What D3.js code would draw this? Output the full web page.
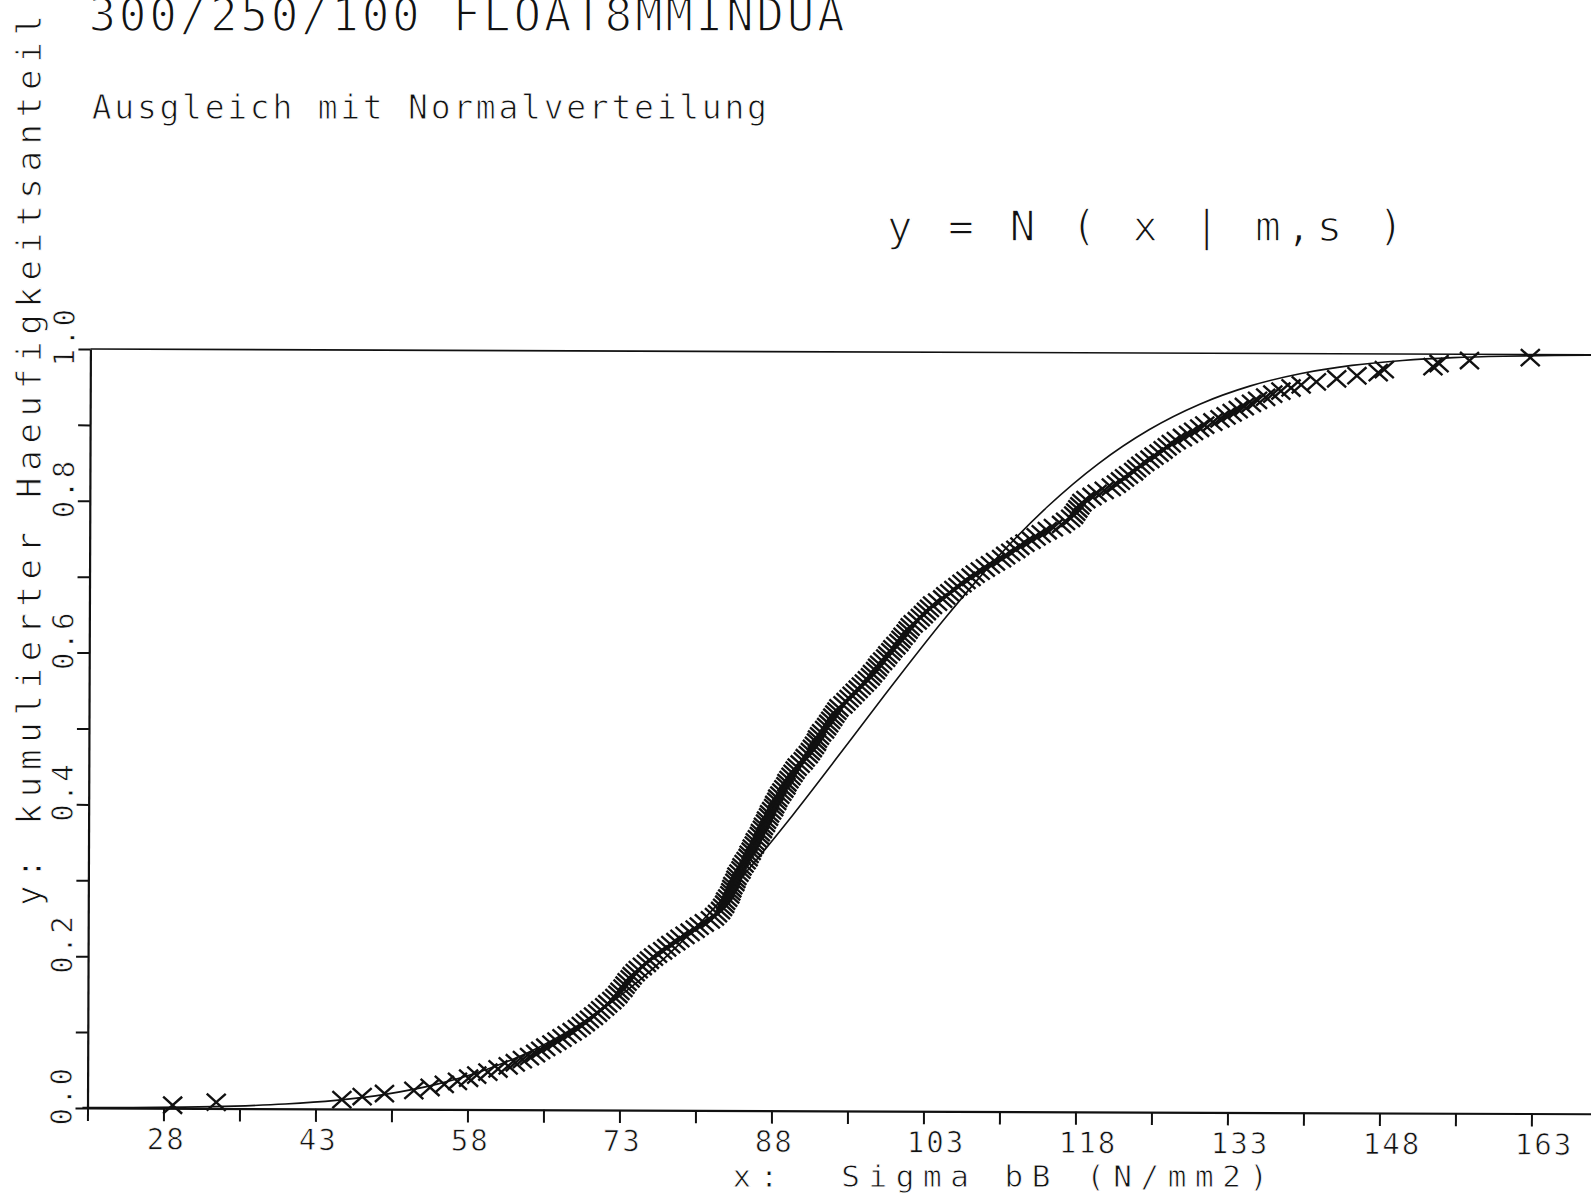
<!DOCTYPE html>
<html><head><meta charset="utf-8">
<script src="https://cdn.jsdelivr.net/npm/d3@7"></script>
<style>html,body{margin:0;padding:0;background:#fff;}svg{display:block;}</style>
</head><body>
<script>
// ---------- data ----------
// sorted measured strengths (N/mm2), plotted as cumulative share
const strengths = [28.9,33.2,45.6,47.6,49.8,52.7,54.3,55.7,57.0,58.1,58.9,60.0,61.0,62.0,62.7,63.4,64.1,64.7,65.2,65.7,
66.3,66.8,67.3,67.8,68.3,68.8,69.2,69.6,70.0,70.4,70.8,71.1,71.5,71.8,72.2,72.5,72.8,73.0,73.3,73.5,
73.7,74.0,74.2,74.5,74.8,75.2,75.6,75.9,76.3,76.7,77.2,77.6,78.0,78.5,78.9,79.4,79.9,80.4,80.8,81.3,
81.9,82.3,82.6,82.9,83.1,83.3,83.4,83.6,83.8,83.9,84.0,84.1,84.3,84.4,84.5,84.7,84.9,85.0,85.2,85.4,
85.6,85.7,85.9,86.0,86.2,86.3,86.5,86.7,86.8,87.0,87.1,87.3,87.4,87.6,87.7,87.9,88.1,88.2,88.4,88.5,
88.7,88.9,89.1,89.3,89.4,89.6,89.8,90.0,90.2,90.4,90.7,91.0,91.2,91.5,91.7,91.9,92.1,92.3,92.4,92.6,
92.8,93.1,93.3,93.5,93.7,93.9,94.1,94.3,94.5,94.9,95.2,95.5,95.8,96.1,96.4,96.7,97.0,97.3,97.6,97.8,
98.1,98.3,98.5,98.8,99.1,99.3,99.6,99.8,100.1,100.4,100.6,100.8,101.1,101.3,101.5,101.8,102.2,102.5,102.8,103.1,
103.4,103.7,104.2,104.7,105.0,105.4,105.8,106.2,106.6,107.0,107.5,107.9,108.4,108.9,109.4,109.9,110.5,110.9,111.4,111.9,
112.3,112.8,113.4,113.9,114.4,115.0,115.6,116.4,116.8,117.3,117.6,117.8,118.0,118.2,118.4,118.8,119.4,119.9,120.6,121.3,
121.8,122.2,122.6,123.0,123.5,123.8,124.2,124.6,125.1,125.5,126.0,126.4,126.8,127.2,127.7,128.3,128.9,129.4,130.0,130.5,
131.3,132.0,132.6,133.2,133.8,134.4,135.1,135.7,136.5,137.2,138.0,139.0,140.0,141.5,143.5,145.5,147.6,148.2,153.0,153.6,
156.6,162.6];

// fitted normal curve y = N(x | m,s)
const curveX = [20,25,30,35,40,45,50,55,60,65,70,75,80,85,90,95,100,105,110,115,120,125,130,135,140,145,150,155,160,165,170];
const curveY = [0.0004,0.0008,0.0016,0.0032,0.0062,0.0113,0.0198,0.0332,0.0534,0.0821,0.1212,0.1719,0.2345,0.3078,0.3897,0.4770,
0.5653,0.6505,0.7287,0.7970,0.8539,0.8990,0.9329,0.9573,0.9739,0.9848,0.9915,0.9955,0.9977,0.9989,0.9995];

const xTickValues = [20.5,28,35.5,43,50.5,58,65.5,73,80.5,88,95.5,103,110.5,118,125.5,133,140.5,148,155.5,163,170.5];
const xTickLabels = ["28","43","58","73","88","103","118","133","148","163"];
const yTickValues = [0,0.1,0.2,0.3,0.4,0.5,0.6,0.7,0.8,0.9,1.0];
const yTickLabels = ["0.0","0.2","0.4","0.6","0.8","1.0"];

const titleText = "300/250/100 FLOAT8MMINDUA";
const subtitleText = "Ausgleich mit Normalverteilung";
const formulaText = "y = N ( x | m,s )";
const xTitleText = "x:  Sigma bB (N/mm2)";
const yTitleText = "y: kumulierter Haeufigkeitsanteil";

// ---------- drawing ----------
const W = 1591, H = 1196;
const FONT = "'DejaVu Sans Mono','Liberation Mono',monospace";
const svg = d3.select("body").append("svg").attr("width", W).attr("height", H)
  .style("background", "#fff");

// plotter-like thin text: monospaced font, thinned with a white outline
function mono(parent, txt, x, y, fs, adv, thin, rot) {
  const t = parent.append("text")
    .attr("x", x).attr("y", y)
    .attr("font-family", FONT).attr("font-size", fs)
    .attr("letter-spacing", (adv - 0.602 * fs).toFixed(2))
    .attr("fill", "#111")
    .attr("stroke", "#fff").attr("stroke-width", thin)
    .attr("xml:space", "preserve")
    .style("white-space", "pre")
    .text(txt);
  if (rot) t.attr("transform", `rotate(${rot},${x},${y})`);
  return t;
}

// headings
mono(svg, titleText, 88.5, 31, 46, 30.35, 1.5);
mono(svg, subtitleText, 91.7, 119, 33, 22.6, 0.9);
mono(svg, formulaText, 886.7, 241, 43, 30.7, 1.3);
mono(svg, xTitleText, 732.5, 1187, 31, 27.2, 0.8);
mono(svg, yTitleText, 41, 906, 34, 27.2, 0.9, -90);

// plot group (the scanned sheet is slightly rotated)
const g = svg.append("g").attr("transform", "rotate(0.22,88,1108)");

const x = d3.scaleLinear().domain([20.5, 170.5]).range([87.5, 87.5 + 150 * 10.133]);
const y = d3.scaleLinear().domain([0, 1]).range([1108, 349]);

// y = 1 reference line
g.append("line").attr("x1", x(20.5)).attr("x2", x(170.5))
  .attr("y1", y(1)).attr("y2", y(1))
  .attr("stroke", "#111").attr("stroke-width", 1.6);

// x axis
const xAxis = d3.axisBottom(x).tickValues(xTickValues).tickSize(13).tickSizeOuter(0)
  .tickFormat(v => { const s = String(v); return xTickLabels.includes(s) ? s : ""; });
const gx = g.append("g").attr("transform", `translate(0,${y(0)})`).call(xAxis);
gx.select(".domain").attr("stroke", "#111").attr("stroke-width", 2.2);
gx.selectAll(".tick line").attr("stroke", "#111").attr("stroke-width", 2);
gx.selectAll(".tick text")
  .attr("font-family", FONT).attr("font-size", 29).attr("fill", "#111")
  .attr("stroke", "#fff").attr("stroke-width", 0.7)
  .attr("letter-spacing", (19.5 - 0.602 * 29).toFixed(2))
  .attr("text-anchor", "start").attr("x", -17).attr("y", 41).attr("dy", null);

// y axis
const yAxis = d3.axisLeft(y).tickValues(yTickValues).tickSize(12).tickSizeOuter(0)
  .tickFormat(v => { const s = d3.format(".1f")(v); return yTickLabels.includes(s) ? s : ""; });
const gy = g.append("g").attr("transform", `translate(${x(20.5)},0)`).call(yAxis);
gy.select(".domain").attr("stroke", "#111").attr("stroke-width", 2.2);
gy.selectAll(".tick line").attr("stroke", "#111").attr("stroke-width", 2);
gy.selectAll(".tick text")
  .attr("font-family", FONT).attr("font-size", 29).attr("fill", "#111")
  .attr("stroke", "#fff").attr("stroke-width", 0.7)
  .attr("letter-spacing", (20 - 0.602 * 29).toFixed(2))
  .attr("text-anchor", "start").attr("x", 0).attr("y", 0).attr("dy", null)
  .attr("transform", "translate(-16,17) rotate(-90)");

// fitted curve
const line = d3.line().x((d, i) => x(curveX[i])).y(d => y(d)).curve(d3.curveMonotoneX);
g.append("path").datum(curveY).attr("d", line)
  .attr("fill", "none").attr("stroke", "#111").attr("stroke-width", 1.6);

// data markers (X)
const n = strengths.length;
const pts = strengths.map((v, i) => ({ v, p: (i + 1) / (n + 1) }));
g.append("g").selectAll("path").data(pts).join("path")
  .attr("transform", d => `translate(${x(d.v)},${y(d.p)})`)
  .attr("d", "M-9.5,-8.5L9.5,8.5M-9.5,8.5L9.5,-8.5")
  .attr("fill", "none").attr("stroke", "#111").attr("stroke-width", 2.4);
</script>
</body></html>
